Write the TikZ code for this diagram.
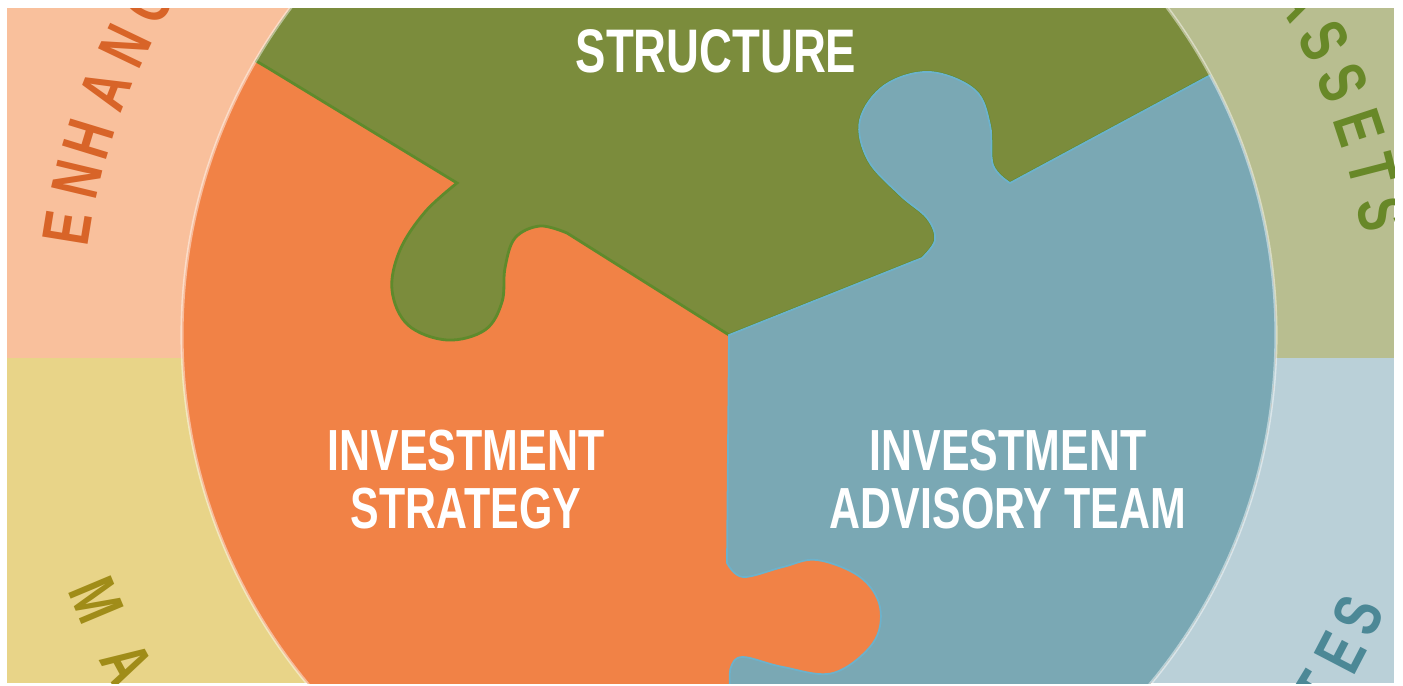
\documentclass[tikz,border=0pt]{standalone}
\usepackage{fontspec}
\usepackage{tikz}
\newfontfamily\piecefont[FakeStretch=0.74]{Liberation Sans}
\newfontfamily\rimfont[FakeStretch=0.72]{Liberation Sans}
\definecolor{salmonbg}{HTML}{F9C09C}
\definecolor{yellowbg}{HTML}{E8D488}
\definecolor{olivebg}{HTML}{B8BE90}
\definecolor{bluebg}{HTML}{BAD0D8}
\definecolor{orangepc}{HTML}{F18246}
\definecolor{greenpc}{HTML}{7B8C3C}
\definecolor{bluepc}{HTML}{7AA8B4}
\definecolor{greenedge}{HTML}{5F8A2C}
\definecolor{blueedge}{HTML}{6CB2CC}
\definecolor{enhtext}{HTML}{D86428}
\definecolor{matext}{HTML}{A08C18}
\definecolor{assettext}{HTML}{688828}
\definecolor{estext}{HTML}{4C8896}

\begin{document}
\begin{tikzpicture}[x=0.1mm, y=-0.1mm,
    tag/.style={text=white, align=center, inner sep=0pt,
        font=\piecefont\bfseries\fontsize{16.5}{16.5}\selectfont},
    rim/.style={inner sep=0pt, anchor=center,
        font=\rimfont\bfseries\fontsize{19}{19}\selectfont}]
    \useasboundingbox (0,0) rectangle (1403,686);
    \clip (7,8) rectangle (1394,683);
    % four quarters behind the wheel
    \fill[salmonbg] (7,8) rectangle (729,358);
    \fill[yellowbg] (7,358) rectangle (729,683);
    \fill[olivebg] (729,8) rectangle (1394,358);
    \fill[bluebg] (729,358) rectangle (1394,683);
    \coordinate (ctr) at (729,335);
    % the three pieces
    \begin{scope}
    \clip (ctr) circle (547);
    \fill[orangepc] (ctr) circle (547);
    \path[fill=greenpc, draw=greenedge, line width=0.8pt] (ctr) -- (567,233)
        -- plot[smooth, tension=0.6] coordinates {(567,233) (540,226) (515,238) (505,268) (502,302) (485,330) (447,340) (408,325) (392,290) (400,250) (425,212) (457,183)}
        -- (268,68) -- (30,-73) -- (30,-400) -- (1450,-400) -- (1450,-52) -- (1205,78) -- (1010,183)
        -- plot[smooth, tension=0.6] coordinates {(1010,183) (993,165) (990,125) (975,90) (930,72) (885,85) (860,120) (868,160) (900,195) (927,218) (935,240) (922,258)}
        -- cycle;
    \path[fill=bluepc, draw=blueedge, line width=0.5pt] (ctr) -- (922,258)
        -- plot[smooth, tension=0.6] coordinates {(922,258) (935,240) (927,218) (900,195) (868,160) (860,120) (885,85) (930,72) (975,90) (990,125) (993,165) (1010,183)}
        -- (1205,78) -- (1450,-52) -- (1450,950) -- (730,950) -- (730,686)
        -- plot[smooth, tension=0.6] coordinates {(730,686) (731,667) (743,657) (783,667) (833,673) (873,643) (880,607) (860,577) (817,560) (783,567) (743,577) (727,563)}
        -- cycle;
    \end{scope}
    \draw[white, opacity=0.45, line width=0.9pt] (ctr) circle (547);
    % piece labels
    \node[tag, font=\piecefont\bfseries\fontsize{17.5}{17.5}\selectfont] (structure) at (716,51) {STRUCTURE};
    \node[tag] (strategy) at (466,480) {INVESTMENT\\STRATEGY};
    \node[tag] (advisory) at (1008,480) {INVESTMENT\\ADVISORY TEAM};
    % words round the rim
    \foreach \ch/\ang [count=\i] in {E/170.8, N/166.6, H/163.0, A/158.5, N/154.4, C/150.2}
        \path (ctr) ++(-\ang:670) node[rim, text=enhtext, rotate=\ang-90] (enh\i) {\ch};
    \foreach \ch/\ang [count=\i] in {A/30.4, S/26.3, S/22.3, E/18.2, T/14.4, S/10.5}
        \path (ctr) ++(-\ang:664) node[rim, text=assettext, rotate=\ang-90] (ast\i) {\ch};
    \foreach \ch/\ang [count=\i] in {M/202.7, A/208.6}
        \path (ctr) ++(-\ang:686) node[rim, text=matext, rotate=\ang+90] (ma\i) {\ch};
    \foreach \ch/\ang [count=\i] in {T/328.8, E/332.5, S/336.0}
        \path (ctr) ++(-\ang:689) node[rim, text=estext, rotate=\ang+90] (es\i) {\ch};
\end{tikzpicture}
\end{document}
